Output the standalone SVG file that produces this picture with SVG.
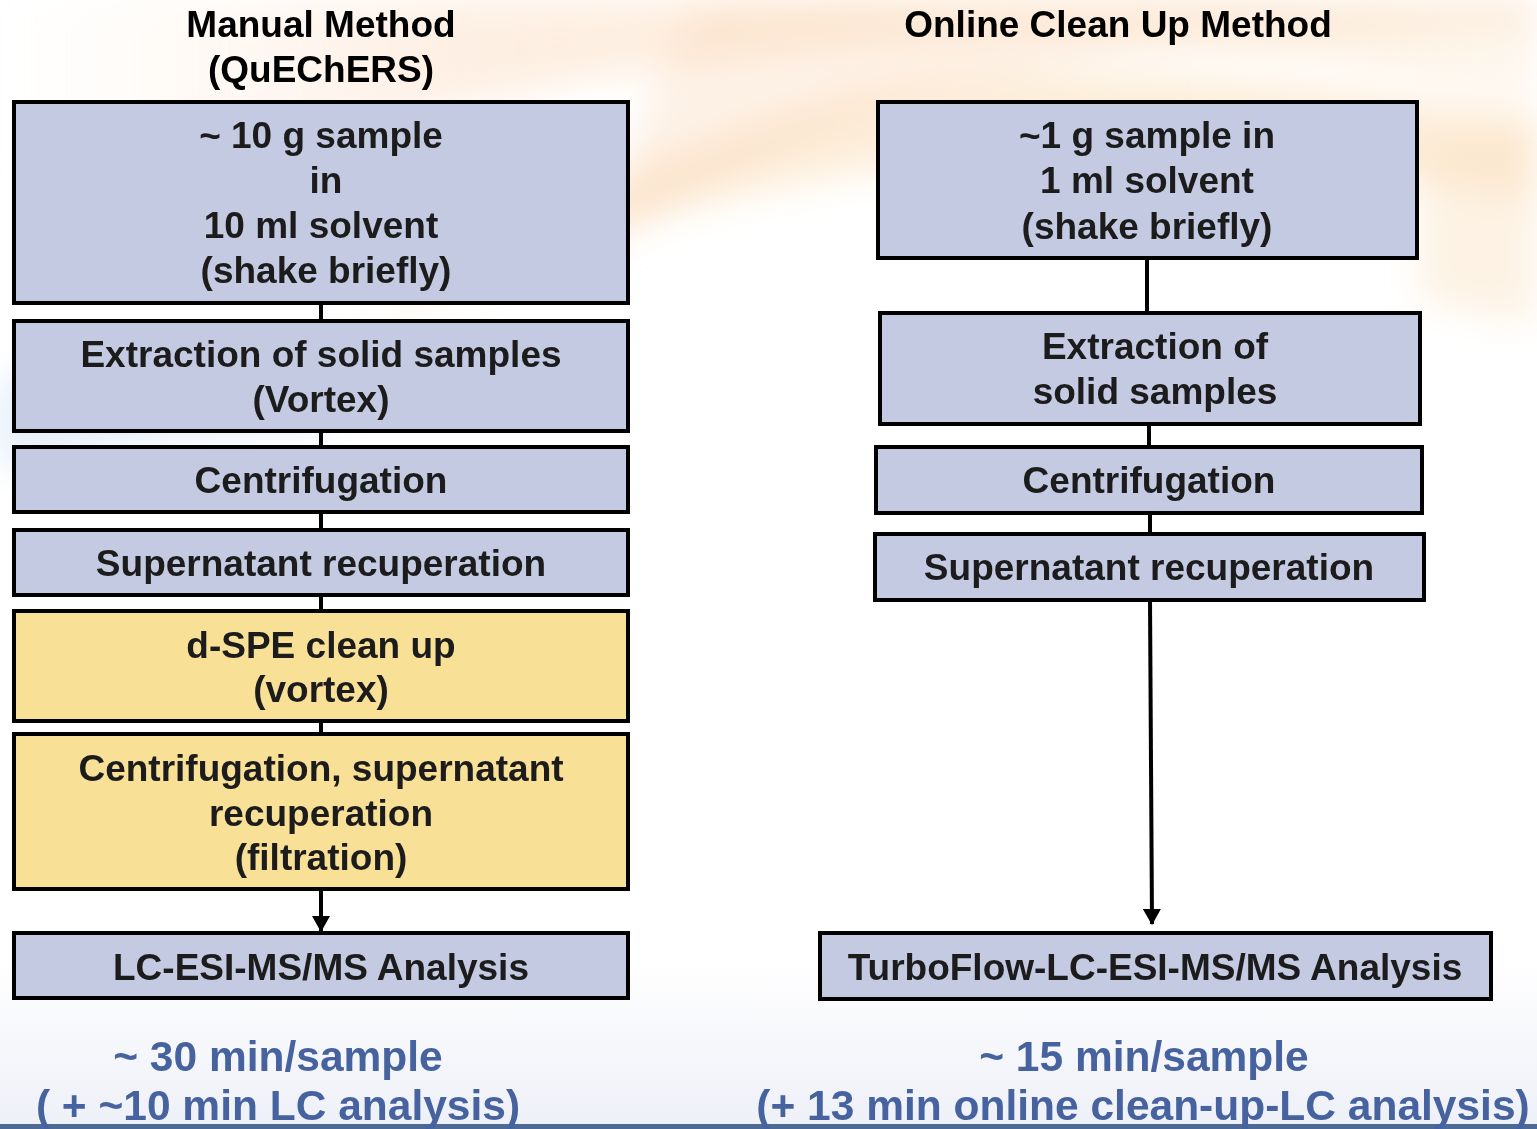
<svg xmlns="http://www.w3.org/2000/svg" width="1537" height="1129" viewBox="0 0 1537 1129">
  <defs>
    <linearGradient id="bgFade" x1="0" y1="0" x2="0" y2="1">
      <stop offset="0" stop-color="#ffffff"/>
      <stop offset="0.85" stop-color="#ffffff"/>
      <stop offset="1" stop-color="#eef0f8"/>
    </linearGradient>
    <linearGradient id="swoosh" x1="0" y1="0" x2="1" y2="0">
      <stop offset="0" stop-color="#fbe3d2" stop-opacity="0"/>
      <stop offset="0.3" stop-color="#fbd7b8" stop-opacity="0.8"/>
      <stop offset="0.6" stop-color="#fbd9b0" stop-opacity="0.9"/>
      <stop offset="1" stop-color="#fbe6c8" stop-opacity="0.6"/>
    </linearGradient>
    <filter id="soft" x="-20%" y="-50%" width="140%" height="200%">
      <feGaussianBlur stdDeviation="18"/>
    </filter>
    <marker id="arrow" viewBox="0 0 16 18" refX="15" refY="9" markerWidth="16" markerHeight="18" markerUnits="userSpaceOnUse" orient="auto">
      <path d="M0,0 L16,9 L0,18 z" fill="#000"/>
    </marker>
    <style>
      .box { stroke: #000; stroke-width: 4; }
      .blue { fill: #c5cae3; }
      .yellow { fill: #f8e096; }
      .lbl { font-family: "Liberation Sans", Arial, sans-serif; font-weight: bold; font-size: 37px; fill: #1c1c1c; text-anchor: middle; dominant-baseline: central; }
      .head { font-family: "Liberation Sans", Arial, sans-serif; font-weight: bold; font-size: 37px; fill: #000; text-anchor: middle; dominant-baseline: central; }
      .time { font-family: "Liberation Sans", Arial, sans-serif; font-weight: bold; font-size: 42.5px; fill: #4663a0; text-anchor: middle; dominant-baseline: central; }
      .link { stroke: #000; stroke-width: 4; fill: none; }
    </style>
  </defs>

  <!-- background -->
  <rect x="0" y="0" width="1537" height="1129" fill="url(#bgFade)"/>
  <g id="background" filter="url(#soft)">
    <path d="M0,170 C300,150 600,60 900,40 C1150,25 1350,60 1537,110 L1537,0 L0,0 Z" fill="url(#swoosh)" opacity="0.5"/>
    <path d="M350,330 C600,220 800,170 1000,160 C1200,150 1400,180 1537,200 L1537,120 C1350,90 1150,60 950,80 C750,100 550,200 350,330 Z" fill="#fbd9ae" opacity="0.45"/>
    <path d="M600,250 C800,120 1000,60 1250,40 L1537,30 L1537,0 L700,0 C650,80 620,170 600,250 Z" fill="#f9cfb0" opacity="0.3"/>
    <path d="M0,380 C80,360 200,360 330,370 L330,430 C200,430 80,450 0,470 Z" fill="#d3e2f3" opacity="0.6"/>
    <path d="M1420,140 C1470,130 1510,120 1537,115 L1537,320 C1500,320 1460,310 1420,300 Z" fill="#fbe3c4" opacity="0.45"/>
  </g>
  <rect x="0" y="1124" width="1537" height="5" fill="#4d6a96"/>

  <!-- column headings -->
  <g id="heading-manual">
    <text class="head" x="321" y="24">Manual Method</text>
    <text class="head" x="321" y="69">(QuEChERS)</text>
  </g>
  <g id="heading-online">
    <text class="head" x="1118" y="24">Online Clean Up Method</text>
  </g>

  <!-- connectors -->
  <g id="connectors">
    <line class="link" x1="321" y1="303" x2="321" y2="321"/>
    <line class="link" x1="321" y1="431" x2="321" y2="447"/>
    <line class="link" x1="321" y1="512" x2="321" y2="530"/>
    <line class="link" x1="321" y1="595" x2="321" y2="611"/>
    <line class="link" x1="321" y1="721" x2="321" y2="734"/>
    <line class="link" x1="321" y1="889" x2="321" y2="931" marker-end="url(#arrow)"/>
    <line class="link" x1="1147" y1="258" x2="1147" y2="313"/>
    <line class="link" x1="1149" y1="424" x2="1149" y2="447"/>
    <line class="link" x1="1150" y1="513" x2="1150" y2="534"/>
    <line class="link" x1="1150" y1="600" x2="1152" y2="924" marker-end="url(#arrow)"/>
  </g>

  <!-- manual method steps -->
  <g id="m-sample">
    <rect class="box blue" x="14" y="102" width="614" height="201"/>
    <text class="lbl" x="321" y="135">~ 10 g sample</text>
    <text class="lbl" x="326" y="180">in</text>
    <text class="lbl" x="321" y="225">10 ml solvent</text>
    <text class="lbl" x="326" y="270">(shake briefly)</text>
  </g>
  <g id="m-extraction">
    <rect class="box blue" x="14" y="321" width="614" height="110"/>
    <text class="lbl" x="321" y="354">Extraction of solid samples</text>
    <text class="lbl" x="321" y="399">(Vortex)</text>
  </g>
  <g id="m-centrifugation">
    <rect class="box blue" x="14" y="447" width="614" height="65"/>
    <text class="lbl" x="321" y="480">Centrifugation</text>
  </g>
  <g id="m-supernatant">
    <rect class="box blue" x="14" y="530" width="614" height="65"/>
    <text class="lbl" x="321" y="563">Supernatant recuperation</text>
  </g>
  <g id="m-dspe">
    <rect class="box yellow" x="14" y="611" width="614" height="110"/>
    <text class="lbl" x="321" y="645">d-SPE clean up</text>
    <text class="lbl" x="321" y="689">(vortex)</text>
  </g>
  <g id="m-filtration">
    <rect class="box yellow" x="14" y="734" width="614" height="155"/>
    <text class="lbl" x="321" y="768">Centrifugation, supernatant</text>
    <text class="lbl" x="321" y="813">recuperation</text>
    <text class="lbl" x="321" y="857">(filtration)</text>
  </g>
  <g id="m-analysis">
    <rect class="box blue" x="14" y="933" width="614" height="65"/>
    <text class="lbl" x="321" y="967">LC-ESI-MS/MS Analysis</text>
  </g>

  <!-- online clean-up steps -->
  <g id="o-sample">
    <rect class="box blue" x="878" y="102" width="539" height="156"/>
    <text class="lbl" x="1147" y="135">~1 g sample in</text>
    <text class="lbl" x="1147" y="180">1 ml solvent</text>
    <text class="lbl" x="1147" y="226">(shake briefly)</text>
  </g>
  <g id="o-extraction">
    <rect class="box blue" x="880" y="313" width="540" height="111"/>
    <text class="lbl" x="1155" y="346">Extraction of</text>
    <text class="lbl" x="1155" y="391">solid samples</text>
  </g>
  <g id="o-centrifugation">
    <rect class="box blue" x="876" y="447" width="546" height="66"/>
    <text class="lbl" x="1149" y="480">Centrifugation</text>
  </g>
  <g id="o-supernatant">
    <rect class="box blue" x="875" y="534" width="549" height="66"/>
    <text class="lbl" x="1149" y="567">Supernatant recuperation</text>
  </g>
  <g id="o-analysis">
    <rect class="box blue" x="820" y="933" width="671" height="66"/>
    <text class="lbl" x="1155" y="967">TurboFlow-LC-ESI-MS/MS Analysis</text>
  </g>

  <!-- time per sample -->
  <g id="time-manual">
    <text class="time" x="278" y="1056">~ 30 min/sample</text>
    <text class="time" x="278" y="1105">( + ~10 min LC analysis)</text>
  </g>
  <g id="time-online">
    <text class="time" x="1144" y="1056">~ 15 min/sample</text>
    <text class="time" x="1143" y="1105">(+ 13 min online clean-up-LC analysis)</text>
  </g>
</svg>
